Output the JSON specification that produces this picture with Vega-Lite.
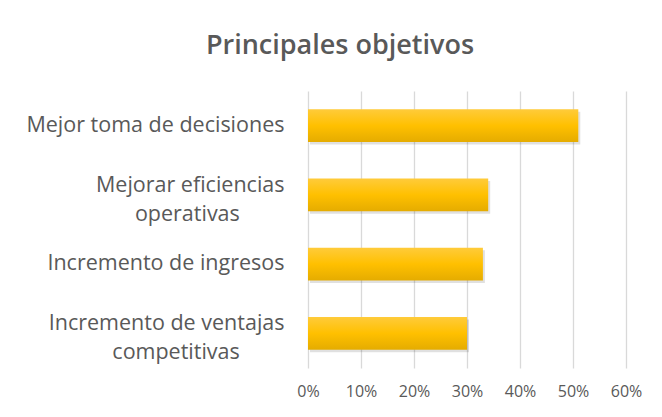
{
  "$schema": "https://vega.github.io/schema/vega-lite/v6.json",
  "width": 318,
  "height": 277,
  "autosize": {"type": "none"},
  "padding": {"left": 308, "top": 91, "right": 36, "bottom": 49},
  "background": "white",
  "title": {
    "text": "Principales objetivos",
    "font": "Open Sans",
    "fontSize": 27,
    "fontWeight": 600,
    "color": "#595959",
    "anchor": "middle",
    "dx": -127,
    "offset": 31
  },
  "data": {
    "values": [
      {"objetivo": "Mejor toma de decisiones", "orden": 1, "valor": 0.51},
      {"objetivo": "Mejorar eficiencias operativas", "orden": 2, "valor": 0.34},
      {"objetivo": "Incremento de ingresos", "orden": 3, "valor": 0.33},
      {"objetivo": "Incremento de ventajas competitivas", "orden": 4, "valor": 0.30}
    ]
  },
  "encoding": {
    "y": {
      "field": "orden",
      "type": "ordinal",
      "sort": "ascending",
      "scale": {"paddingInner": 0.53, "paddingOuter": 0.265},
      "axis": {
        "title": null,
        "labelExpr": "datum.value == 1 ? ['Mejor toma de decisiones'] : datum.value == 2 ? ['Mejorar eficiencias', 'operativas\u00a0\u00a0\u00a0\u00a0\u00a0\u00a0\u00a0\u00a0\u200b'] : datum.value == 3 ? ['Incremento de ingresos'] : ['Incremento de ventajas', 'competitivas\u00a0\u00a0\u00a0\u00a0\u00a0\u00a0\u00a0\u00a0\u200b']",
        "labelFont": "Open Sans",
        "labelFontSize": 21.5,
        "labelColor": "#595959",
        "labelPadding": 24,
        "labelLineHeight": 29,
        "labelLimit": 400,
        "labelOffset": {"condition": {"test": "datum.value == 2 || datum.value == 4", "value": -9}, "value": 0},
        "ticks": false,
        "domain": false,
        "grid": false
      }
    },
    "x": {
      "field": "valor",
      "type": "quantitative",
      "scale": {"domain": [0, 0.6], "nice": false},
      "axis": {
        "title": null,
        "format": "%",
        "values": [0, 0.1, 0.2, 0.3, 0.4, 0.5, 0.6],
        "labelFont": "Open Sans",
        "labelFontSize": 16,
        "labelColor": "#595959",
        "labelPadding": 15,
        "labelFlush": false,
        "ticks": false,
        "domain": false,
        "grid": true,
        "gridColor": "#D9D9D9",
        "gridWidth": 1.3
      }
    }
  },
  "layer": [
    {
      "mark": {"type": "bar", "color": "#000000", "opacity": 0.12, "xOffset": 2, "yOffset": 2.5}
    },
    {
      "mark": {
        "type": "bar",
        "color": {
          "gradient": "linear",
          "x1": 0, "y1": 0, "x2": 0, "y2": 1,
          "stops": [
            {"offset": 0, "color": "#FFCB3A"},
            {"offset": 0.5, "color": "#FFC000"},
            {"offset": 1, "color": "#E5AC00"}
          ]
        }
      }
    }
  ],
  "config": {
    "view": {"stroke": null}
  }
}
